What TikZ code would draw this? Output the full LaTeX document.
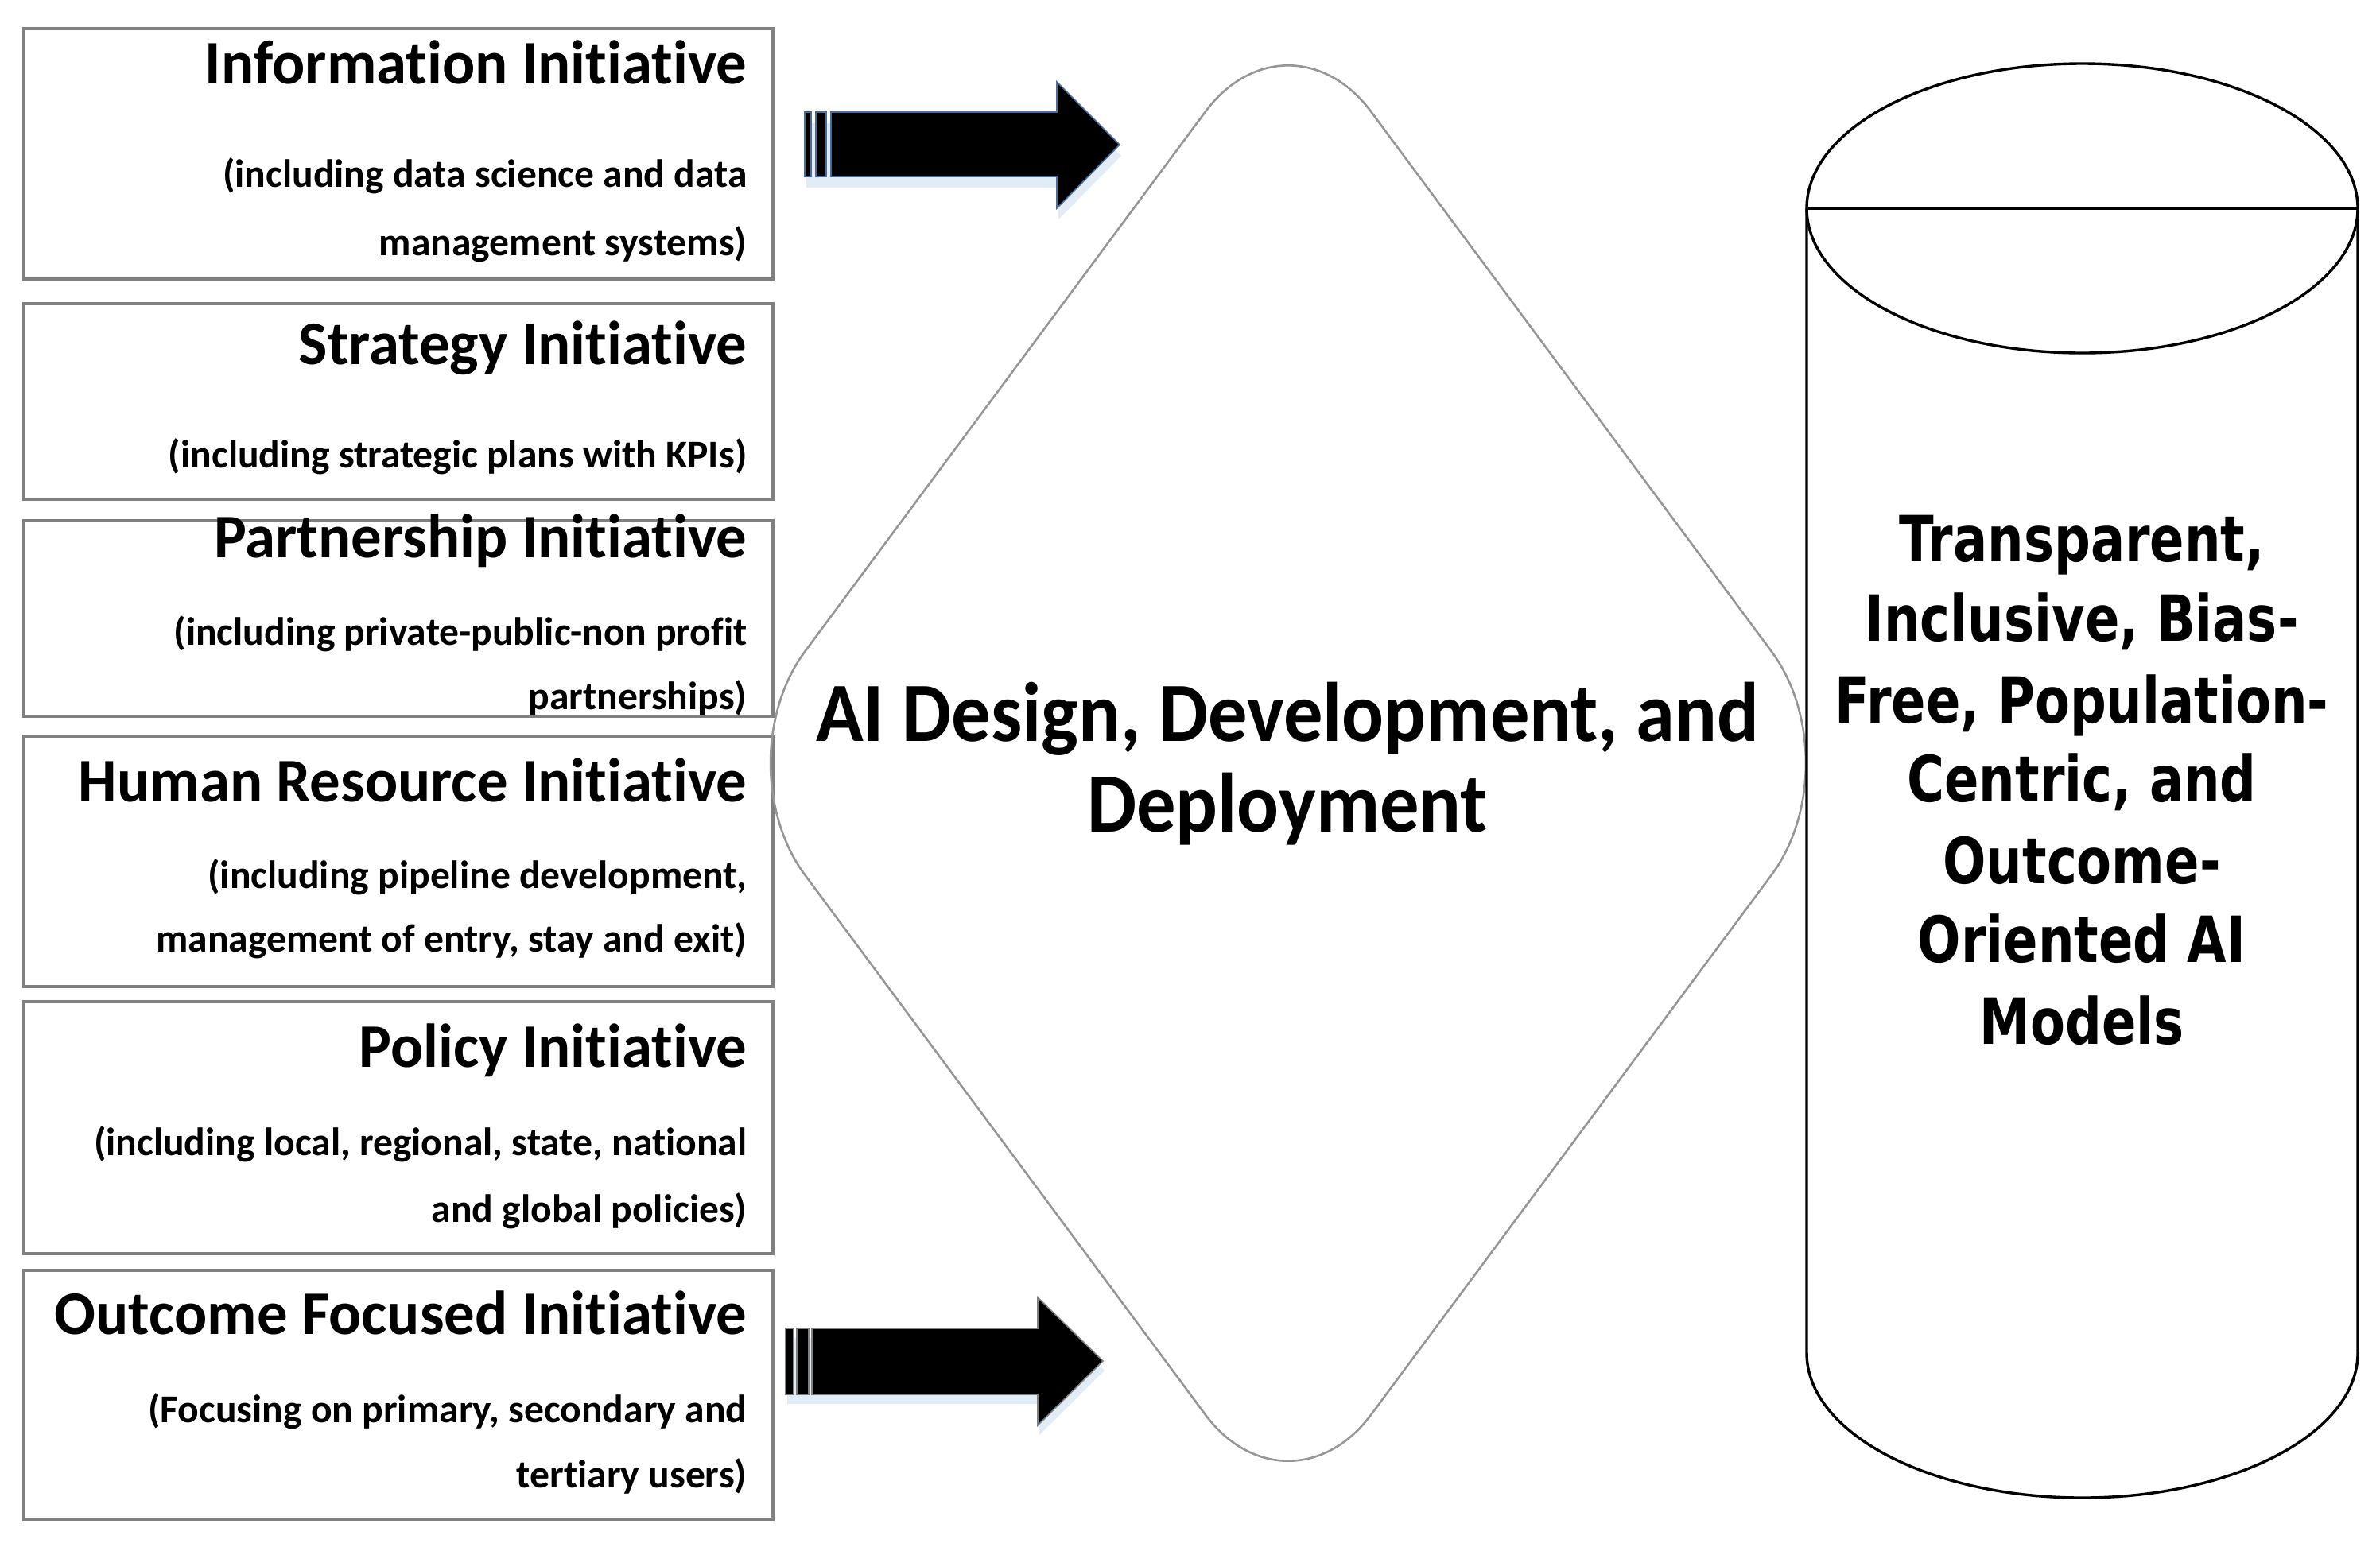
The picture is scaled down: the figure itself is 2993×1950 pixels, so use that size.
\documentclass[tikz,border=0pt]{standalone}
\usepackage{fontspec}
\usetikzlibrary{calc}
\setmainfont{Carlito}
\newfontfamily\boxfont[FakeStretch=0.985,RawFeature=-liga]{Carlito}
\newfontfamily\subfont[RawFeature=-liga]{Carlito}
\newfontfamily\midfont[FakeStretch=0.93]{Carlito}
\newfontfamily\cylfont[FakeStretch=0.80]{DejaVu Sans}
\definecolor{boxgray}{RGB}{128,128,128}
\definecolor{diagray}{RGB}{150,150,150}
\definecolor{arrowedge}{RGB}{70,110,160}
\definecolor{glow}{RGB}{214,228,245}
\begin{document}
\begin{tikzpicture}[x=0.25pt,y=-0.25pt,
  ibox/.style={draw=boxgray, line width=0.9pt, rectangle, inner sep=0pt, anchor=north west, minimum width=235.5pt},
  ttl/.style={anchor=base east, inner sep=0pt, font=\boxfont\bfseries\fontsize{19.5pt}{20pt}\selectfont},
  sub/.style={anchor=base east, inner sep=0pt, font=\subfont\bfseries\fontsize{12.4pt}{13pt}\selectfont},
  midtxt/.style={anchor=base, inner sep=0pt, font=\midfont\bfseries\fontsize{26.5pt}{28pt}\selectfont},
  cyltxt/.style={anchor=base, inner sep=0pt, font=\cylfont\bfseries\fontsize{20pt}{25pt}\selectfont},
  diam/.style={draw=diagray, line width=0.65pt, rounded corners=43.75pt},
  cyl/.style={draw=black, line width=0.85pt},
  blk/.style={fill=black, draw=arrowedge, line width=0.4pt},
  shade/.style={fill=glow, draw=none, opacity=0.7}
]
\useasboundingbox (0,0) rectangle (2993,1950);
\fill[white] (0,0) rectangle (2993,1950);

% ---- left boxes
\node[ibox, minimum height=78.75pt] (b1) at (28,34) {};
\node[ibox, minimum height=61.5pt]  (b2) at (28,380) {};
\node[ibox, minimum height=61.5pt]  (b3) at (28,653) {};
\node[ibox, minimum height=78.75pt] (b4) at (28,924) {};
\node[ibox, minimum height=79.25pt] (b5) at (28,1258) {};
\node[ibox, minimum height=78.25pt] (b6) at (28,1596) {};

\node[ttl] (t1)  at (940,105)  {Information Initiative};
\node[sub] (s1a) at (940,235)  {(including data science and data};
\node[sub] (s1b) at (940,321)  {management systems)};

\node[ttl] (t2)  at (940,458)  {Strategy Initiative};
\node[sub] (s2a) at (940,588)  {(including strategic plans with KPIs)};

\node[ttl] (t3)  at (940,701)  {Partnership Initiative};
\node[sub] (s3a) at (940,811)  {(including private-public-non profit};
\node[sub] (s3b) at (940,892)  {partnerships)};

\node[ttl] (t4)  at (940,1008) {Human Resource Initiative};
\node[sub] (s4a) at (940,1117) {(including pipeline development,};
\node[sub] (s4b) at (940,1197) {management of entry, stay and exit)};

\node[ttl] (t5)  at (940,1342) {Policy Initiative};
\node[sub] (s5a) at (940,1453) {(including local, regional, state, national};
\node[sub] (s5b) at (940,1537) {and global policies)};

\node[ttl] (t6)  at (940,1678) {Outcome Focused Initiative};
\node[sub] (s6a) at (940,1789) {(Focusing on primary, secondary and};
\node[sub] (s6b) at (940,1871) {tertiary users)};

% ---- diamond
\coordinate (dtop) at (1620,0);
\coordinate (dright) at (2332,960);
\coordinate (dbot) at (1620,1920);
\coordinate (dleft) at (908,960);
\draw[diam] ($(dtop)!0.5!(dright)$) -- (dright) -- (dbot) -- (dleft) -- (dtop) -- cycle;
\node[midtxt] (m1) at (1619,932)  {AI Design, Development, and};
\node[midtxt] (m2) at (1619,1046) {Deployment};

% ---- cylinder
\draw[cyl] (2618.5,262) ellipse [x radius=346.5, y radius=182];
\draw[cyl] (2272,262) -- (2965,262);
\draw[cyl] (2272,262) -- (2272,1702) arc[start angle=180, end angle=0, x radius=346.5, y radius=182] -- (2965,262);
\node[cyltxt] (o1) at (2618,706)  {Transparent,};
\node[cyltxt] (o2) at (2618,806)  {Inclusive, Bias-};
\node[cyltxt] (o3) at (2618,909)  {Free, Population-};
\node[cyltxt] (o4) at (2618,1008) {Centric, and};
\node[cyltxt] (o5) at (2618,1111) {Outcome-};
\node[cyltxt] (o6) at (2618,1210) {Oriented AI};
\node[cyltxt] (o7) at (2618,1313) {Models};

% ---- striped block arrows
\fill[shade] (1014,155) -- (1331,155) -- (1331,117) -- (1410,196) -- (1331,276) -- (1331,236) -- (1014,236) -- cycle;
\draw[blk] (1012,141) rectangle (1020,222);
\draw[blk] (1026,141) rectangle (1039,222);
\draw[blk] (1045,141) -- (1329,141) -- (1329,103) -- (1408,182) -- (1329,262) -- (1329,222) -- (1045,222) -- cycle;

\fill[shade] (990,1683) -- (1307,1683) -- (1307,1644) -- (1389,1724) -- (1307,1805) -- (1307,1766) -- (990,1766) -- cycle;
\draw[blk, draw=gray] (988,1671) rectangle (998,1754);
\draw[blk, draw=gray] (1002,1671) rectangle (1017,1754);
\draw[blk, draw=gray] (1021,1671) -- (1305,1671) -- (1305,1632) -- (1387,1712) -- (1305,1793) -- (1305,1754) -- (1021,1754) -- cycle;
\end{tikzpicture}
\end{document}
